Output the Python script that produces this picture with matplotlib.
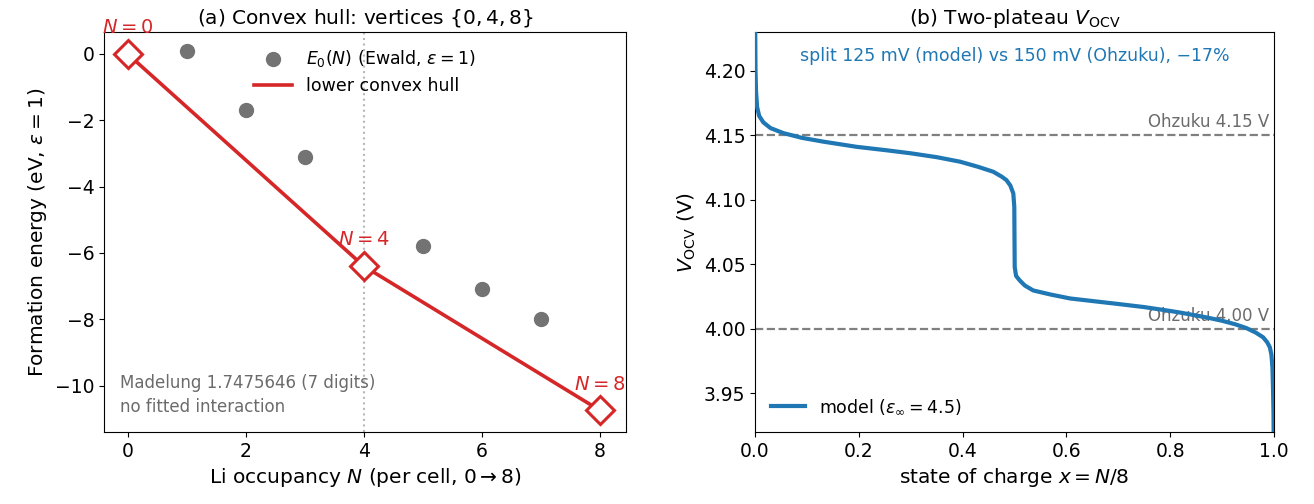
import numpy as np
import matplotlib
matplotlib.use("Agg")
import matplotlib.pyplot as plt

# ---- data: panel (a) ----
N = [0, 1, 2, 3, 4, 5, 6, 7, 8]
E0 = [0.0, 0.1, -1.7, -3.1, -6.4, -5.8, -7.1, -8.0, -10.75]
hull_N = [0, 4, 8]
hull_E = [0.0, -6.4, -10.75]
hull_labels = ["$N = 0$", "$N = 4$", "$N = 8$"]

# ---- data: panel (b) ----
soc = [0.0, 0.0003, 0.001, 0.002, 0.004, 0.008, 0.016, 0.03, 0.055, 0.09,
       0.132, 0.196, 0.25, 0.3, 0.35, 0.395, 0.43, 0.459, 0.475, 0.4845,
       0.492, 0.4977, 0.4996, 0.5, 0.5004, 0.503, 0.51, 0.52, 0.536, 0.57,
       0.607, 0.65, 0.7, 0.75, 0.8, 0.82, 0.87, 0.9, 0.925, 0.947, 0.965,
       0.979, 0.987, 0.992, 0.995, 0.997, 0.998, 0.999, 0.9997, 1.0]
V_ocv = [4.30, 4.24, 4.20, 4.184, 4.172, 4.165, 4.160, 4.1555, 4.1516, 4.148,
         4.145, 4.141, 4.1385, 4.136, 4.133, 4.1295, 4.1255, 4.1217, 4.118, 4.1152,
         4.111, 4.1049, 4.0945, 4.07, 4.0478, 4.041, 4.0375, 4.0335, 4.0297, 4.0265,
         4.0235, 4.0215, 4.0192, 4.0168, 4.0138, 4.0125, 4.0088, 4.0062, 4.0035, 4.0005, 3.997,
         3.9934, 3.9895, 3.9856, 3.980, 3.970, 3.955, 3.935, 3.90, 3.85]
ohzuku_levels = [4.15, 4.00]
ohzuku_labels = ["Ohzuku 4.15 V", "Ohzuku 4.00 V"]

plt.rcParams['font.family'] = ['DejaVu Sans']
plt.rcParams['mathtext.fontset'] = 'dejavusans'

fig = plt.figure(figsize=(13.14, 5.04), dpi=100)
ax1 = fig.add_axes([104/1314, 72/504, 522/1314, 400/504])
ax2 = fig.add_axes([755/1314, 72/504, 519/1314, 400/504])

red = '#d62728'
blue = '#1f77b4'

# panel (a)
ax1.axvline(4, color='0.72', ls=':', lw=1.5, zorder=1)
ax1.scatter(N, E0, s=100, color='0.45', zorder=2, label=r'$E_0(N)$ (Ewald, $\varepsilon = 1$)')
ax1.plot(hull_N, hull_E, color=red, lw=2.6, zorder=3, label='lower convex hull')
ax1.plot(hull_N, hull_E, ls='none', marker='D', ms=14, mfc='white', mec=red, mew=2.2, zorder=4)
for n, e, lab in zip(hull_N, hull_E, hull_labels):
    ax1.annotate(lab, (n, e), xytext=(0, 12), textcoords='offset points',
                 ha='center', va='bottom', color=red, fontsize=14)
ax1.legend(loc='upper center', frameon=False, fontsize=12.5, handlelength=2.2,
           bbox_to_anchor=(0.5, 1.0))
ax1.text(0.03, 0.04, 'Madelung 1.7475646 (7 digits)\nno fitted interaction',
         transform=ax1.transAxes, color='0.42', fontsize=12, ha='left', va='bottom',
         linespacing=1.4)
ax1.set_title(r'(a) Convex hull: vertices $\{0, 4, 8\}$', fontsize=14.5)
ax1.set_xlabel(r'Li occupancy $N$ (per cell, $0 \rightarrow 8$)', fontsize=14.5)
ax1.set_ylabel(r'Formation energy (eV, $\varepsilon = 1$)', fontsize=14.5)
ax1.set_xticks([0, 2, 4, 6, 8])
ax1.set_yticks([0, -2, -4, -6, -8, -10])
ax1.set_yticklabels(['0', '−2', '−4', '−6', '−8', '−10'])
ax1.tick_params(labelsize=13.5)
ax1.set_xlim(-0.4, 8.44)
ax1.set_ylim(-11.4, 0.66)

# panel (b)
for lvl, lab in zip(ohzuku_levels, ohzuku_labels):
    ax2.axhline(lvl, color='0.5', ls='--', lw=1.6, zorder=1)
    ax2.text(0.99, lvl + 0.003, lab, color='0.42', fontsize=12, ha='right', va='bottom',
             transform=ax2.get_yaxis_transform())
ax2.plot(soc, V_ocv, color=blue, lw=3, zorder=3, label=r'model ($\varepsilon_\infty = 4.5$)')
ax2.text(0.5, 0.94, 'split 125 mV (model) vs 150 mV (Ohzuku), −17%', color=blue,
         fontsize=12.5, ha='center', va='center', transform=ax2.transAxes)
ax2.legend(loc='lower left', frameon=False, fontsize=12.5)
ax2.set_xlim(0, 1)
ax2.set_ylim(3.92, 4.23)
ax2.set_yticks([3.95, 4.00, 4.05, 4.10, 4.15, 4.20])
ax2.set_yticklabels(['3.95', '4.00', '4.05', '4.10', '4.15', '4.20'])
ax2.tick_params(labelsize=13.5)
ax2.set_title(r'(b) Two-plateau $V_{\mathrm{OCV}}$', fontsize=14.5)
ax2.set_xlabel(r'state of charge $x = N/8$', fontsize=14.5)
ax2.set_ylabel(r'$V_{\mathrm{OCV}}$ (V)', fontsize=14.5)

fig.savefig('out.png', dpi=100)
